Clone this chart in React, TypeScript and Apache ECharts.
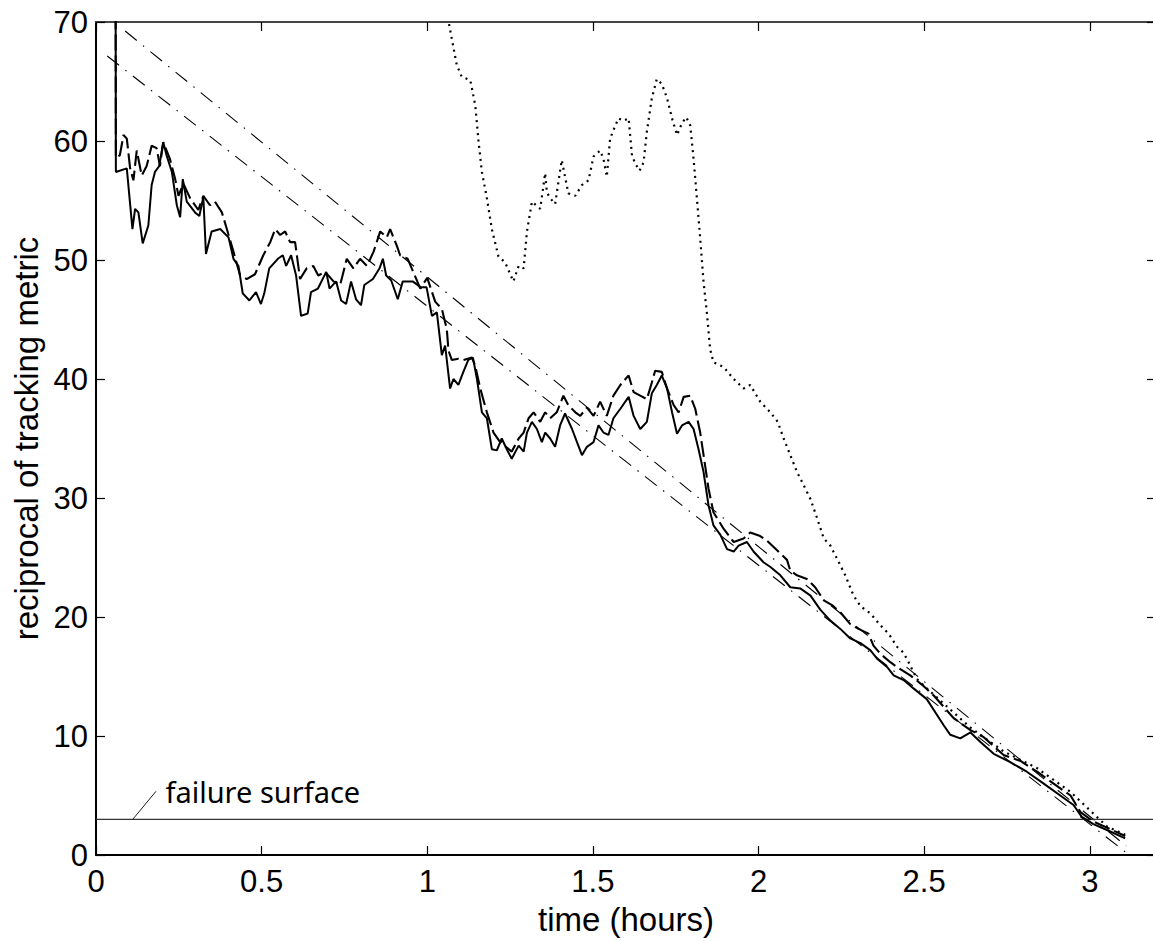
import React, { useEffect, useRef } from "react";
import * as echarts from "echarts";

// ---- data (time in hours, reciprocal of tracking metric) ----
const SOLID: number[][] = [
  [0.059, 76], [0.06, 57.4], [0.093, 57.7], [0.11, 52.6], [0.118, 54.3], [0.128, 54.0], [0.141, 51.4],
  [0.158, 52.9], [0.168, 56.3], [0.178, 57.4], [0.191, 57.9], [0.203, 59.9], [0.213, 58.8], [0.229, 57.4],
  [0.244, 54.6], [0.254, 53.6], [0.262, 56.8], [0.274, 54.9], [0.299, 54.0], [0.312, 53.7], [0.324, 55.3],
  [0.332, 50.5], [0.349, 52.4], [0.375, 52.6], [0.4, 51.9], [0.415, 50.1], [0.43, 49.5], [0.443, 47.2],
  [0.463, 46.6], [0.483, 47.3], [0.498, 46.3], [0.508, 47.2], [0.523, 49.3], [0.549, 50.1], [0.564, 50.4],
  [0.574, 49.5], [0.589, 50.4], [0.604, 48.7], [0.619, 45.3], [0.639, 45.5], [0.649, 47.3], [0.67, 47.6],
  [0.695, 49.0], [0.705, 47.6], [0.725, 48.2], [0.74, 46.6], [0.755, 46.3], [0.77, 48.2], [0.785, 46.7],
  [0.8, 46.2], [0.81, 47.9], [0.836, 48.4], [0.856, 49.3], [0.866, 50.1], [0.876, 48.7], [0.891, 48.3],
  [0.911, 46.7], [0.926, 48.2], [0.956, 48.2], [0.981, 47.7], [0.998, 47.7], [1.014, 45.3], [1.029, 45.6],
  [1.044, 42.0], [1.054, 42.8], [1.069, 39.2], [1.079, 40.0], [1.094, 39.5], [1.109, 40.6], [1.124, 41.6],
  [1.138, 41.8], [1.15, 40.0], [1.165, 37.2], [1.18, 36.7], [1.195, 34.1], [1.21, 34.0], [1.225, 35.0],
  [1.24, 34.1], [1.255, 33.3], [1.276, 34.4], [1.291, 33.9], [1.301, 35.5], [1.316, 36.4], [1.331, 35.8],
  [1.346, 34.7], [1.356, 35.5], [1.371, 35.0], [1.386, 34.3], [1.401, 36.1], [1.416, 37.1], [1.437, 35.8],
  [1.452, 34.7], [1.467, 33.6], [1.482, 34.3], [1.502, 34.7], [1.517, 36.1], [1.532, 35.5], [1.547, 35.3],
  [1.562, 36.7], [1.583, 37.5], [1.608, 38.5], [1.623, 36.9], [1.643, 35.8], [1.663, 36.4], [1.678, 38.8],
  [1.693, 39.5], [1.708, 40.3], [1.724, 39.2], [1.739, 37.2], [1.754, 35.4], [1.769, 36.1], [1.789, 36.4],
  [1.804, 35.8], [1.819, 34.1], [1.834, 32.2], [1.849, 29.4], [1.864, 27.7], [1.885, 26.9], [1.905, 25.7],
  [1.925, 25.5], [1.94, 26.0], [1.965, 26.3], [1.985, 25.5], [2.015, 24.6], [2.036, 24.2], [2.066, 23.5],
  [2.096, 22.5], [2.126, 22.4], [2.157, 21.8], [2.187, 20.6], [2.217, 19.7], [2.247, 19.0], [2.277, 18.2],
  [2.308, 17.8], [2.338, 17.2], [2.358, 16.5], [2.388, 15.8], [2.408, 15.1], [2.438, 14.7], [2.468, 14.0],
  [2.508, 13.1], [2.559, 10.9], [2.579, 10.1], [2.609, 9.8], [2.64, 10.3], [2.67, 9.5], [2.71, 8.5],
  [2.76, 7.8], [2.81, 7.0], [2.861, 6.0], [2.911, 5.0], [2.951, 4.2], [2.976, 3.2], [3.011, 2.6],
  [3.052, 2.1], [3.107, 1.4],
];

const DASHED: number[][] = [
  [0.059, 76], [0.06, 58.6], [0.072, 58.8], [0.083, 60.5], [0.093, 60.2], [0.103, 57.7], [0.113, 56.7],
  [0.123, 59.2], [0.138, 57.1], [0.153, 57.9], [0.168, 59.6], [0.183, 59.4], [0.193, 57.9], [0.203, 59.9],
  [0.223, 58.5], [0.239, 56.8], [0.249, 55.4], [0.264, 56.4], [0.284, 55.2], [0.309, 54.2], [0.324, 55.4],
  [0.344, 54.6], [0.359, 54.9], [0.38, 54.0], [0.395, 52.6], [0.415, 50.7], [0.435, 48.7], [0.455, 48.4],
  [0.48, 48.8], [0.505, 50.4], [0.526, 51.5], [0.541, 52.6], [0.556, 52.1], [0.571, 52.4], [0.586, 51.5],
  [0.601, 51.5], [0.616, 48.4], [0.636, 49.3], [0.656, 49.5], [0.671, 48.7], [0.692, 49.0], [0.717, 48.2],
  [0.737, 47.9], [0.757, 50.1], [0.777, 49.3], [0.797, 50.1], [0.818, 49.5], [0.838, 50.7], [0.858, 52.4],
  [0.878, 51.9], [0.888, 52.6], [0.908, 51.2], [0.918, 50.4], [0.941, 50.1], [0.979, 47.6], [1.0, 48.5],
  [1.024, 46.5], [1.044, 45.9], [1.059, 44.2], [1.064, 42.4], [1.074, 41.6], [1.094, 41.7], [1.109, 41.6],
  [1.135, 41.8], [1.145, 41.1], [1.16, 39.2], [1.18, 37.2], [1.2, 35.5], [1.22, 34.7], [1.255, 33.9],
  [1.276, 35.0], [1.291, 35.5], [1.306, 36.7], [1.321, 37.2], [1.341, 36.4], [1.356, 37.2], [1.371, 36.7],
  [1.391, 37.2], [1.411, 38.6], [1.426, 37.8], [1.447, 37.2], [1.462, 36.9], [1.482, 37.6], [1.502, 36.9],
  [1.522, 38.1], [1.542, 36.9], [1.562, 38.6], [1.583, 39.5], [1.608, 40.3], [1.623, 38.9], [1.643, 38.6],
  [1.663, 38.3], [1.678, 39.7], [1.688, 40.7], [1.708, 40.6], [1.724, 39.2], [1.744, 37.8], [1.759, 37.2],
  [1.774, 38.5], [1.794, 38.6], [1.809, 37.5], [1.824, 35.5], [1.839, 32.7], [1.849, 30.8], [1.864, 28.8],
  [1.895, 27.4], [1.925, 26.3], [1.955, 26.6], [1.975, 27.1], [2.005, 26.8], [2.026, 26.4], [2.056, 25.6],
  [2.086, 24.8], [2.096, 23.9], [2.116, 23.5], [2.146, 23.2], [2.171, 22.5], [2.197, 21.4], [2.222, 21.0],
  [2.247, 20.4], [2.277, 19.4], [2.302, 19.0], [2.332, 18.6], [2.347, 17.6], [2.368, 16.9], [2.398, 16.2],
  [2.418, 15.8], [2.458, 15.1], [2.494, 14.3], [2.529, 13.4], [2.589, 11.5], [2.64, 10.5], [2.68, 9.9],
  [2.74, 8.4], [2.791, 7.9], [2.841, 7.0], [2.891, 6.0], [2.942, 5.0], [2.972, 3.6], [3.012, 2.8],
  [3.052, 2.3], [3.107, 1.6],
];

const DOTTED: number[][] = [
  [1.06, 72], [1.064, 70.1], [1.074, 68.6], [1.089, 66.4], [1.104, 65.4], [1.13, 65.1], [1.145, 63.0],
  [1.155, 59.9], [1.165, 57.4], [1.18, 55.2], [1.195, 52.6], [1.215, 50.3], [1.235, 49.8], [1.26, 48.2],
  [1.276, 49.5], [1.291, 49.3], [1.301, 52.4], [1.316, 54.9], [1.341, 54.3], [1.356, 57.3], [1.361, 55.7],
  [1.371, 55.2], [1.386, 54.7], [1.406, 58.4], [1.426, 55.6], [1.447, 55.4], [1.467, 56.3], [1.487, 56.7],
  [1.502, 58.7], [1.522, 59.2], [1.532, 58.5], [1.542, 57.0], [1.552, 60.2], [1.562, 60.9], [1.577, 61.9],
  [1.593, 61.7], [1.608, 61.9], [1.618, 58.8], [1.628, 58.1], [1.641, 57.5], [1.653, 58.2], [1.663, 60.8],
  [1.678, 63.6], [1.693, 65.2], [1.708, 64.8], [1.724, 63.6], [1.739, 61.9], [1.754, 60.5], [1.769, 61.5],
  [1.782, 62.0], [1.794, 61.3], [1.804, 58.5], [1.814, 55.2], [1.824, 51.8], [1.834, 48.2], [1.844, 45.6],
  [1.854, 42.5], [1.864, 41.4], [1.895, 41.0], [1.925, 40.0], [1.955, 39.2], [1.975, 39.5], [2.005, 38.1],
  [2.036, 37.2], [2.058, 36.4], [2.076, 35.0], [2.096, 33.6], [2.116, 32.2], [2.136, 31.1], [2.157, 29.9],
  [2.177, 28.3], [2.197, 26.6], [2.217, 26.0], [2.237, 24.9], [2.262, 23.5], [2.287, 21.8], [2.308, 20.9],
  [2.338, 20.3], [2.368, 19.3], [2.393, 18.6], [2.418, 17.5], [2.438, 17.0], [2.453, 16.2], [2.478, 14.8],
  [2.508, 14.0], [2.64, 10.7], [2.74, 8.7], [2.841, 7.3], [2.942, 5.3], [3.052, 2.4], [3.107, 1.7],
];

const FIT_UPPER: number[][] = [[0.088, 69.24], [3.11, 0.76]];
const FIT_LOWER: number[][] = [[0.034, 67.14], [3.11, 0.2]];
const FAILURE_LEVEL: number[][] = [[0, 3], [3.2, 3]];
const LEADER: number[][] = [[0.111, 3], [0.181, 5.35]];
const LEADER_TEXT = "failure surface";

const X_MIN = 0, X_MAX = 3.2, X_STEP = 0.5;
const Y_MIN = 0, Y_MAX = 70, Y_STEP = 10;

const FONT = "'Liberation Sans', Arial, Helvetica, sans-serif";

export default function App() {
  const ref = useRef<HTMLDivElement>(null);
  useEffect(() => {
    if (!ref.current) return;
    const chart = echarts.init(ref.current, undefined, { renderer: "svg" });
    const tickStyle = { color: "#000", width: 1.2 };
    const lineBase = { type: "line", showSymbol: false, symbol: "none", silent: true, clip: true };
    chart.setOption({
      animation: false,
      backgroundColor: "#fff",
      grid: { left: 96, top: 22, right: 1, bottom: 85, containLabel: false },
      xAxis: [
        {
          type: "value", min: X_MIN, max: X_MAX, interval: X_STEP, position: "bottom",
          axisLine: { show: true, onZero: false, lineStyle: { color: "#000", width: 2 } },
          axisTick: { show: true, inside: true, length: 9, lineStyle: tickStyle },
          axisLabel: { show: true, fontSize: 31, color: "#000", fontFamily: FONT, margin: 11, showMaxLabel: false },
          splitLine: { show: false },
          name: "time (hours)", nameLocation: "middle", nameGap: 48,
          nameTextStyle: { fontSize: 33, color: "#000", fontFamily: FONT },
        },
        {
          type: "value", min: X_MIN, max: X_MAX, interval: X_STEP, position: "top",
          axisLine: { show: true, onZero: false, lineStyle: { color: "#444", width: 2 } },
          axisTick: { show: true, inside: true, length: 9, lineStyle: tickStyle },
          axisLabel: { show: false }, splitLine: { show: false },
        },
      ],
      yAxis: [
        {
          type: "value", min: Y_MIN, max: Y_MAX, interval: Y_STEP, position: "left",
          axisLine: { show: true, onZero: false, lineStyle: { color: "#000", width: 2 } },
          axisTick: { show: true, inside: true, length: 9, lineStyle: tickStyle },
          axisLabel: { show: true, fontSize: 31, color: "#000", fontFamily: FONT, margin: 8 },
          splitLine: { show: false },
          name: "reciprocal of tracking metric", nameLocation: "middle", nameGap: 52, nameRotate: 90,
          nameTextStyle: { fontSize: 33, color: "#000", fontFamily: FONT },
        },
        {
          type: "value", min: Y_MIN, max: Y_MAX, interval: Y_STEP, position: "right",
          axisLine: { show: true, onZero: false, lineStyle: { color: "#000", width: 2 } },
          axisTick: { show: true, inside: true, length: 9, lineStyle: tickStyle },
          axisLabel: { show: false }, splitLine: { show: false },
        },
      ],
      series: [
        { ...lineBase, name: "fit upper", data: FIT_UPPER, lineStyle: { color: "#000", width: 1.1, type: [15, 8, 1.5, 8] } },
        { ...lineBase, name: "fit lower", data: FIT_LOWER, lineStyle: { color: "#000", width: 1.1, type: [15, 8, 1.5, 8] } },
        { ...lineBase, name: "failure", data: FAILURE_LEVEL, lineStyle: { color: "#333", width: 1.3 } },
        { ...lineBase, name: "leader", data: LEADER, lineStyle: { color: "#222", width: 1 } },
        { ...lineBase, name: "dotted", data: DOTTED, lineStyle: { color: "#000", width: 2.2, type: [2, 4.5] } },
        { ...lineBase, name: "dashed", data: DASHED, lineStyle: { color: "#000", width: 2.1, type: [16, 5] } },
        { ...lineBase, name: "solid", data: SOLID, lineStyle: { color: "#000", width: 2 } },
        {
          type: "scatter", name: "label", silent: true, symbolSize: 1,
          itemStyle: { color: "rgba(0,0,0,0)" },
          data: [LEADER[1]],
          label: {
            show: true, position: "right", distance: 9, formatter: LEADER_TEXT,
            fontSize: 29, color: "#000", opacity: 1, fontFamily: "'Noto Sans', 'Open Sans', sans-serif",
          },
        },
      ],
    });
    return () => chart.dispose();
  }, []);
  return (
    <div style={{ position: "fixed", left: 0, top: 0, width: 1153, height: 941, overflow: "hidden", background: "#fff" }}>
      <div ref={ref} style={{ width: 1157, height: 941 }} />
    </div>
  );
}
